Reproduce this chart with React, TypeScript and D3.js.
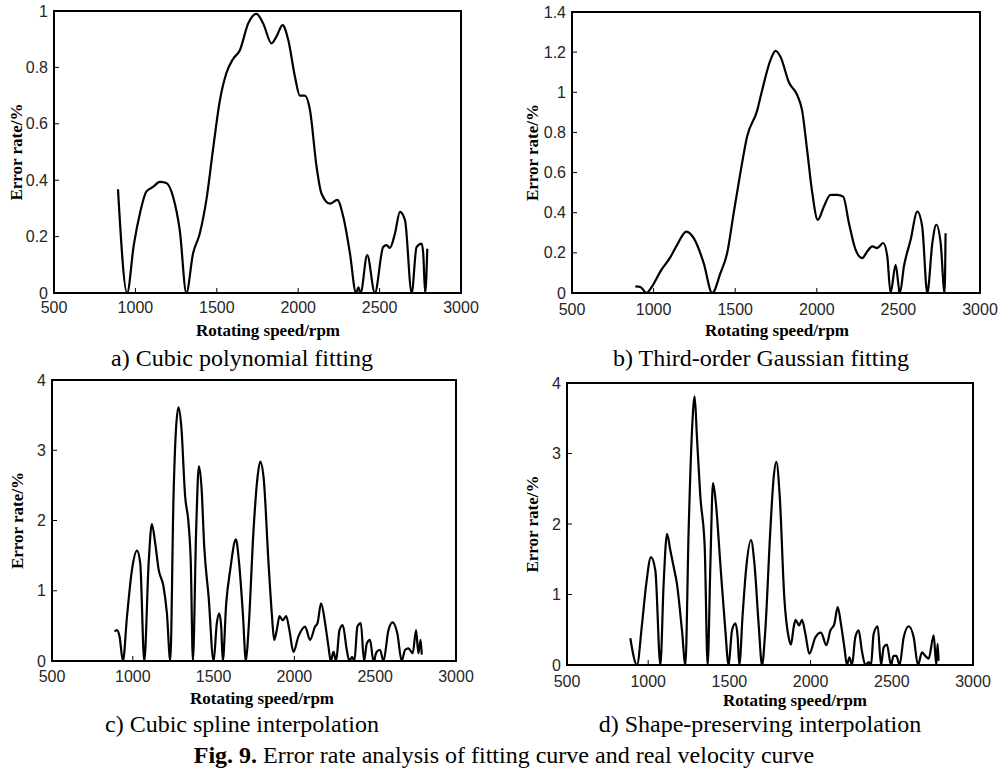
import * as d3 from "d3";

// shared axes
const speedTicks = [500, 1000, 1500, 2000, 2500, 3000];
const ticksA = [0, 0.2, 0.4, 0.6, 0.8, 1];
const ticksB = [0, 0.2, 0.4, 0.6, 0.8, 1, 1.2, 1.4];
const ticksCD = [0, 1, 2, 3, 4];

// a) Cubic polynomial fitting
const speedA = [893, 949, 990, 1027, 1068, 1108, 1150, 1190, 1232, 1273, 1313, 1354, 1395, 1436, 1477, 1518, 1559, 1600, 1641, 1693, 1744, 1785, 1836, 1867, 1904, 1939, 1980, 2010, 2041, 2072, 2113, 2143, 2195, 2240, 2277, 2318, 2355, 2370, 2383, 2424, 2471, 2522, 2543, 2563, 2594, 2625, 2656, 2697, 2727, 2758, 2768, 2780, 2793];
const errorA = [0.368, 0, 0.17, 0.28, 0.36, 0.376, 0.394, 0.39, 0.34, 0.22, 0, 0.14, 0.21, 0.33, 0.51, 0.68, 0.78, 0.83, 0.86, 0.956, 0.99, 0.956, 0.885, 0.91, 0.95, 0.897, 0.767, 0.7, 0.7, 0.65, 0.447, 0.353, 0.317, 0.33, 0.27, 0.14, 0, 0.02, 0, 0.134, 0, 0.163, 0.17, 0.16, 0.21, 0.288, 0.258, 0, 0.163, 0.175, 0.14, 0, 0.157];

// b) Third-order Gaussian fitting
const speedB = [888, 919, 956, 991, 1042, 1103, 1144, 1201, 1246, 1307, 1359, 1410, 1451, 1491, 1532, 1573, 1635, 1665, 1716, 1747, 1778, 1829, 1880, 1910, 1941, 1972, 2006, 2043, 2084, 2125, 2162, 2197, 2238, 2278, 2309, 2340, 2370, 2407, 2432, 2452, 2483, 2509, 2534, 2575, 2616, 2646, 2677, 2708, 2732, 2759, 2783, 2789];
const errorB = [0.033, 0.03, 0, 0.033, 0.108, 0.179, 0.24, 0.306, 0.273, 0.149, 0, 0.1, 0.2, 0.4, 0.6, 0.78, 0.91, 1.01, 1.16, 1.206, 1.176, 1.05, 0.986, 0.91, 0.71, 0.5, 0.364, 0.43, 0.489, 0.489, 0.48, 0.348, 0.215, 0.174, 0.207, 0.232, 0.224, 0.249, 0.182, 0, 0.14, 0, 0.133, 0.265, 0.406, 0.33, 0, 0.249, 0.34, 0.249, 0, 0.298];

// c) Cubic spline interpolation
const speedC = [887, 902, 918, 939, 964, 995, 1026, 1046, 1071, 1098, 1118, 1139, 1160, 1190, 1211, 1232, 1252, 1267, 1283, 1300, 1324, 1345, 1359, 1372, 1392, 1409, 1425, 1442, 1469, 1500, 1520, 1535, 1547, 1557, 1578, 1603, 1638, 1658, 1681, 1700, 1716, 1747, 1772, 1788, 1809, 1840, 1860, 1875, 1891, 1908, 1928, 1949, 1969, 1994, 2025, 2066, 2097, 2128, 2143, 2165, 2190, 2211, 2225, 2242, 2258, 2279, 2299, 2324, 2340, 2357, 2371, 2390, 2411, 2431, 2448, 2468, 2489, 2509, 2530, 2551, 2582, 2608, 2637, 2664, 2685, 2705, 2732, 2753, 2767, 2781, 2788];
const errorC = [0.42, 0.44, 0.35, 0, 0.63, 1.3, 1.57, 1.39, 0, 1.39, 1.95, 1.67, 1.3, 1.06, 0.68, 0, 2.34, 3.29, 3.61, 3.34, 2.34, 1.96, 1.39, 0, 1.86, 2.77, 2.48, 1.63, 0.92, 0, 0.54, 0.68, 0.49, 0, 0.82, 1.3, 1.73, 1.39, 0.68, 0, 0.44, 1.86, 2.62, 2.84, 2.62, 1.39, 0.68, 0.3, 0.44, 0.64, 0.58, 0.64, 0.44, 0.13, 0.35, 0.49, 0.3, 0.49, 0.54, 0.82, 0.54, 0.2, 0, 0.13, 0, 0.44, 0.51, 0.16, 0, 0.06, 0, 0.49, 0.54, 0, 0.25, 0.3, 0, 0.13, 0.16, 0, 0.44, 0.55, 0.39, 0, 0.16, 0.18, 0.11, 0.44, 0.11, 0.3, 0.09];

// d) Shape-preserving interpolation
const speedD = [890, 931, 962, 988, 1017, 1044, 1075, 1095, 1116, 1136, 1157, 1177, 1208, 1229, 1249, 1270, 1286, 1300, 1321, 1348, 1366, 1383, 1399, 1417, 1444, 1475, 1495, 1516, 1537, 1551, 1561, 1582, 1602, 1633, 1654, 1680, 1701, 1721, 1752, 1773, 1789, 1810, 1838, 1865, 1879, 1896, 1908, 1929, 1947, 1968, 1992, 2029, 2064, 2097, 2122, 2146, 2167, 2187, 2208, 2224, 2239, 2255, 2275, 2296, 2316, 2337, 2358, 2372, 2388, 2413, 2434, 2450, 2470, 2495, 2511, 2528, 2548, 2573, 2604, 2635, 2661, 2686, 2706, 2727, 2758, 2774, 2782, 2788];
const errorD = [0.38, 0, 0.58, 1.15, 1.53, 1.34, 0, 1.15, 1.86, 1.63, 1.39, 1.15, 0.49, 0, 1.91, 3.34, 3.81, 3.24, 2.39, 1.67, 0, 1.44, 2.58, 2.29, 1.44, 0.49, 0, 0.49, 0.59, 0.39, 0, 0.73, 1.34, 1.77, 1.44, 0.58, 0, 0.49, 1.91, 2.67, 2.88, 2.39, 0.96, 0.39, 0.29, 0.54, 0.64, 0.56, 0.64, 0.44, 0.16, 0.39, 0.46, 0.28, 0.49, 0.58, 0.82, 0.58, 0.25, 0, 0.11, 0, 0.39, 0.49, 0.2, 0, 0.04, 0, 0.44, 0.55, 0, 0.25, 0.29, 0, 0.13, 0.13, 0, 0.39, 0.55, 0.39, 0, 0.18, 0.13, 0.09, 0.42, 0, 0.3, 0.06];

const serif = "'Liberation Serif', 'Times New Roman', serif";
const sans = "'Liberation Sans', Arial, sans-serif";

type PanelProps = {
  left: number;
  right: number;
  top: number;
  bottom: number;
  yTicks: number[];
  speed: number[];
  error: number[];
  yLabelX: number;
  xLabelX: number;
  xLabelY: number;
  tickLabelY: number;
  caption: string;
  captionX: number;
  captionY: number;
};

const Panel = (p: PanelProps) => {
  const x = d3.scaleLinear().domain([500, 3000]).range([p.left, p.right]);
  const y = d3
    .scaleLinear()
    .domain([0, d3.max(p.yTicks) as number])
    .range([p.bottom, p.top]);

  const pts: [number, number][] = p.speed.map((s, i) => [s, p.error[i]]);
  const line = d3
    .line<[number, number]>()
    .x((d) => x(d[0]))
    .y((d) => y(Math.max(0, d[1])))
    .curve(d3.curveMonotoneX);

  const midY = (p.top + p.bottom) / 2;

  return (
    <g>
      {/* ticks, inward */}
      {speedTicks.map((t) => (
        <line key={`xt${t}`} x1={x(t)} x2={x(t)} y1={p.bottom} y2={p.bottom - 5} stroke="#000" strokeWidth={1} />
      ))}
      {p.yTicks.map((t) => (
        <line key={`yt${t}`} x1={p.left} x2={p.left + 5} y1={y(t)} y2={y(t)} stroke="#000" strokeWidth={1} />
      ))}

      <path d={line(pts) || ""} fill="none" stroke="#000" strokeWidth={2.2} strokeLinejoin="round" />

      <rect
        x={p.left}
        y={p.top}
        width={p.right - p.left}
        height={p.bottom - p.top}
        fill="none"
        stroke="#000"
        strokeWidth={2}
      />

      {/* tick labels */}
      {speedTicks.map((t) => (
        <text key={`xl${t}`} x={x(t)} y={p.tickLabelY} textAnchor="middle" dominantBaseline="central" fontFamily={sans} fontSize={16} fill="#262626">
          {t}
        </text>
      ))}
      {p.yTicks.map((t) => (
        <text key={`yl${t}`} x={p.left - 6} y={y(t)} textAnchor="end" dominantBaseline="central" fontFamily={sans} fontSize={16} fill="#262626">
          {+t.toFixed(1)}
        </text>
      ))}

      <text
        transform={`translate(${p.yLabelX},${midY}) rotate(-90)`}
        textAnchor="middle"
        dominantBaseline="central"
        fontFamily={serif}
        fontWeight="bold"
        fontSize={17}
      >
        Error rate/%
      </text>
      <text x={p.xLabelX} y={p.xLabelY} textAnchor="middle" dominantBaseline="central" fontFamily={serif} fontWeight="bold" fontSize={17}>
        Rotating speed/rpm
      </text>
      <text x={p.captionX} y={p.captionY} textAnchor="middle" dominantBaseline="central" fontFamily={serif} fontSize={24}>
        {p.caption}
      </text>
    </g>
  );
};

export default function App() {
  return (
    <svg
      width={1008}
      height={769}
      viewBox="0 0 1008 769"
      style={{ position: "absolute", left: 0, top: 0, background: "#fff" }}
    >
      <Panel
        left={54} right={461} top={11} bottom={293}
        yTicks={ticksA} speed={speedA} error={errorA}
        yLabelX={16} xLabelX={268} xLabelY={330} tickLabelY={307}
        caption="a) Cubic polynomial fitting" captionX={242} captionY={358}
      />
      <Panel
        left={572} right={980} top={12} bottom={293}
        yTicks={ticksB} speed={speedB} error={errorB}
        yLabelX={532} xLabelX={777} xLabelY={330} tickLabelY={309}
        caption="b) Third-order Gaussian fitting" captionX={761} captionY={358}
      />
      <Panel
        left={52} right={456} top={380} bottom={661}
        yTicks={ticksCD} speed={speedC} error={errorC}
        yLabelX={17} xLabelX={262} xLabelY={698} tickLabelY={676}
        caption="c) Cubic spline interpolation" captionX={242} captionY={724}
      />
      <Panel
        left={567} right={973} top={383} bottom={665}
        yTicks={ticksCD} speed={speedD} error={errorD}
        yLabelX={532} xLabelX={795} xLabelY={700} tickLabelY={681}
        caption="d) Shape-preserving interpolation" captionX={760} captionY={724}
      />
      <text x={504} y={755} textAnchor="middle" dominantBaseline="central" fontFamily={serif} fontSize={24}>
        <tspan fontWeight="bold">Fig. 9.</tspan> Error rate analysis of fitting curve and real velocity curve
      </text>
    </svg>
  );
}
